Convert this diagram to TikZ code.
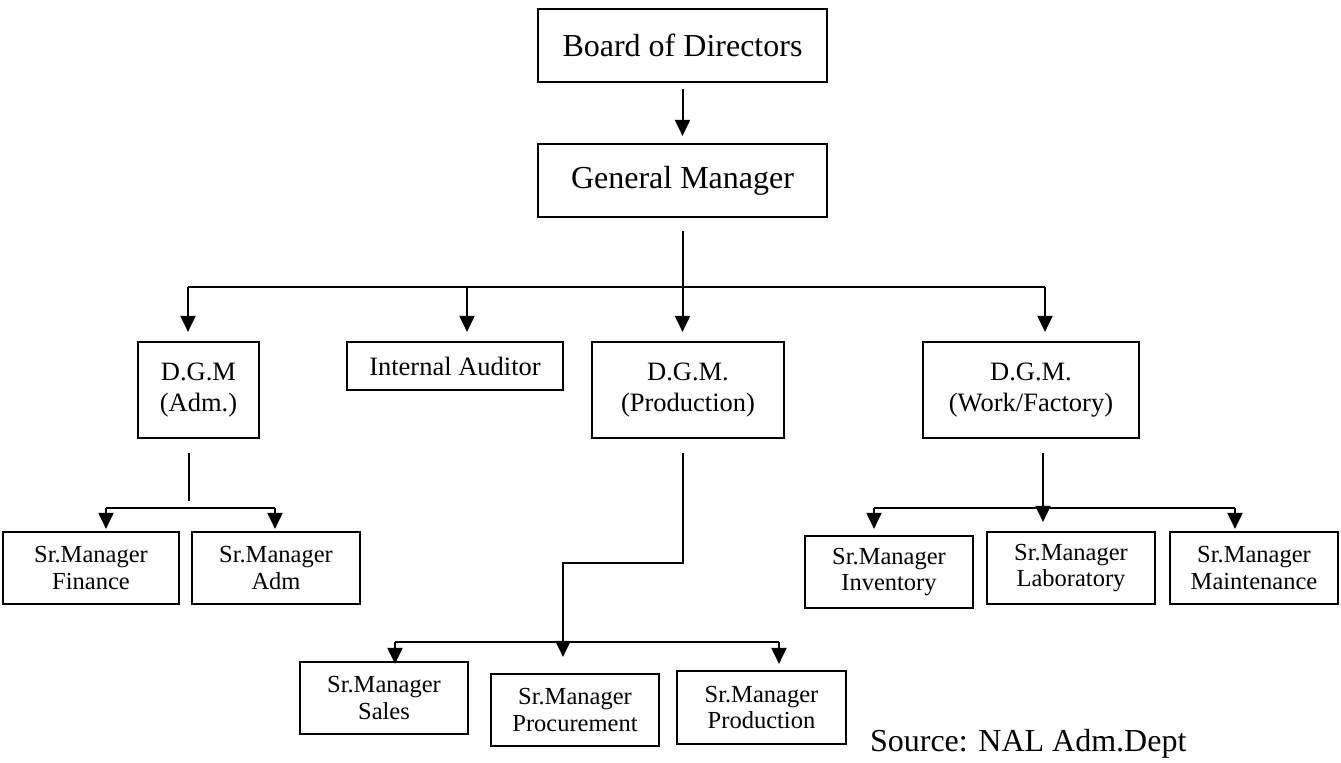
\documentclass[tikz,border=0pt]{standalone}
\usepackage{fontspec}
\setmainfont{Liberation Serif}
\usetikzlibrary{arrows.meta, calc}

\begin{document}
\begin{tikzpicture}[x=0.5pt, y=-0.5pt,
        box/.style={draw, line width=1.1pt, inner sep=0pt, align=center},
        bigbox/.style={box, minimum width=144.5pt, minimum height=36.5pt, font=\fontsize{16}{19}\selectfont},
        midbox/.style={box, minimum height=48pt, font=\fontsize{13.25}{15.5}\selectfont},
        srbox/.style={box, minimum width=84pt, minimum height=36pt, font=\fontsize{12.25}{13.25}\selectfont},
        link/.style={line width=1pt},
        arr/.style={link, -{Triangle[length=8pt, width=7.5pt]}}]
        \useasboundingbox (0,0) rectangle (1341,762);

        % Top
        \node[bigbox] (bod) at (682.5,45.5) {Board of Directors};
        \node[bigbox] (gm) at (682.5,180.5) {General Manager};

        % D.G.M. level
        \node[midbox, minimum width=60.5pt] (dgmadm) at (198.5,390) {D.G.M\\(Adm.)};
        \node[midbox, minimum width=108pt, minimum height=24pt] (audit) at (455,366) {Internal Auditor};
        \node[midbox, minimum width=96pt] (dgmprod) at (688,390) {D.G.M.\\(Production)};
        \node[midbox, minimum width=108pt] (dgmwork) at (1031,390) {D.G.M.\\(Work/Factory)};

        % Sr. managers
        \node[srbox, minimum width=88pt] (fin) at (91,568) {Sr.Manager\\Finance};
        \node[srbox] (adm) at (276,568) {Sr.Manager\\Adm};
        \node[srbox] (sales) at (384,698) {Sr.Manager\\Sales};
        \node[srbox] (proc) at (575,710) {Sr.Manager\\Procurement};
        \node[srbox, minimum width=84.5pt, minimum height=36.5pt] (prodm) at (761.5,707.5) {Sr.Manager\\Production};
        \node[srbox] (inv) at (889,572) {Sr.Manager\\Inventory};
        \node[srbox] (lab) at (1071,568) {Sr.Manager\\Laboratory};
        \node[srbox] (maint) at (1254,568) {Sr.Manager\\Maintenance};

        % Source
        \node[anchor=west, font=\fontsize{16}{19}\selectfont] (source) at (863,744) {Source: NAL Adm.Dept};

        % Board to GM
        \draw[arr, shorten <=3pt, shorten >=3.5pt] (bod) -- (gm);

        % GM to D.G.M. level
        \coordinate (busL) at (188,287);
        \coordinate (busA) at (467,287);
        \coordinate (busR) at (1045,287);
        \draw[arr, shorten <=6.5pt, shorten >=4.5pt] (gm.south) -- (gm.south |- dgmprod.north);
        \draw[link] (busL) -- (busR);
        \draw[arr, shorten >=4.5pt] (busL) -- (busL |- dgmadm.north);
        \draw[arr, shorten >=4.5pt] (busA) -- (busA |- audit.north);
        \draw[arr, shorten >=4.5pt] (busR) -- (busR |- dgmwork.north);

        % Adm branch
        \coordinate (admstub) at (189,501);
        \coordinate (admL) at (106,508);
        \coordinate (admR) at (275,508);
        \draw[link, shorten <=7pt] (dgmadm.south -| admstub) -- (admstub);
        \draw[link] (admL) -- (admR);
        \draw[arr, shorten >=1pt] (admL) -- (admL |- fin.north);
        \draw[arr, shorten >=1pt] (admR) -- (admR |- adm.north);

        % Production branch
        \coordinate (prodjog) at (683,563);
        \coordinate (prodbend) at (563,563);
        \coordinate (prodL) at (395,642);
        \coordinate (prodR) at (779,642);
        \draw[arr, shorten <=7pt, shorten >=8pt] (dgmprod.south -| prodjog) -- (prodjog) -- (prodbend) -- (prodbend |- proc.north);
        \draw[link] (prodL) -- (prodR);
        \draw[arr, shorten >=-1.5pt] (prodL) -- (prodL |- sales.north);
        \draw[arr, shorten >=3pt] (prodR) -- (prodR |- prodm.north);

        % Work/Factory branch
        \coordinate (workjoin) at (1043,508);
        \coordinate (workL) at (874,508);
        \coordinate (workR) at (1235,508);
        \draw[arr, shorten <=7pt, shorten >=4.5pt] (dgmwork.south -| workjoin) -- (workjoin |- lab.north);
        \draw[link] (workL) -- (workR);
        \draw[arr, shorten >=3pt] (workL) -- (workL |- inv.north);
        \draw[arr, shorten >=1pt] (workR) -- (workR |- maint.north);
    \end{tikzpicture}
\end{document}
